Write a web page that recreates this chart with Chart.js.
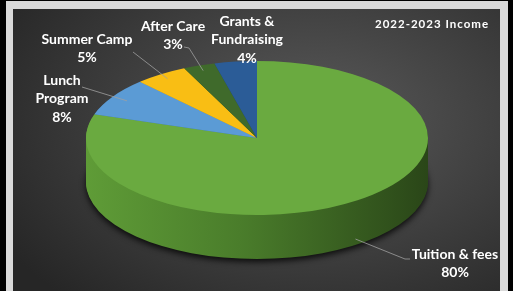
<!DOCTYPE html>
<html>
<head>
<meta charset="utf-8">
<script src="https://cdn.jsdelivr.net/npm/chart.js@4.4.1/dist/chart.umd.min.js"></script>
<style>
html, body { margin: 0; padding: 0; background: #000; width: 513px; height: 291px; overflow: hidden; }
#marco { position: absolute; left: 6px; top: 1px; width: 502px; height: 290px; background: #d9d9d9; }
#panel { position: absolute; left: 13px; top: 9px; width: 487px; height: 282px;
  background: radial-gradient(ellipse 75% 85% at 62% 40%, #5a5a5a 0%, #404040 50%, #262626 100%); }
#miGrafica { position: absolute; left: 0; top: 0; }
</style>
</head>
<body>
<div id="marco"></div>
<div id="panel"></div>
<canvas id="miGrafica" width="513" height="291"></canvas>
<script>
// datos
const categorias = ['Tuition & fees', 'Lunch Program', 'Summer Camp', 'After Care', 'Grants & Fundraising']
const porcentajes = [80, 8, 5, 3, 4]
const titulo = '2022-2023 Income'

const coloresTapa = ['#6aaa40', '#5b9bd5', '#f9be14', '#3f6a2b', '#2b5c97']
const coloresLado = ['#4a7d2b', '#3f77aa', '#c99500', '#2c4b1d', '#1d4170']

// geometria del pastel 3d (elipse en pantalla)
const CX = 257, CY = 138, RX = 171, RY = 77, PROF = 44

function ponerTransform(ctx, arc, d) {
    const R = arc.outerRadius
    ctx.translate(CX, CY + d)
    ctx.scale(RX / R, RY / R)
    ctx.translate(-arc.x, -arc.y)
}

function punto(arc, frac, d) {
    const ang = (arc.startAngle + arc.endAngle) / 2
    return { x: CX + RX * frac * Math.cos(ang), y: CY + RY * frac * Math.sin(ang) + d }
}

const pastel3d = {
    id: 'pastel3d',
    beforeDatasetsDraw(chart) {
        const ctx = chart.ctx
        const arcs = chart.getDatasetMeta(0).data
        const a0 = arcs[0]
        for (let d = PROF; d > 0; d--) {
            ctx.save()
            ponerTransform(ctx, a0, d)
            const g = ctx.createLinearGradient(a0.x - a0.outerRadius, 0, a0.x + a0.outerRadius, 0)
            g.addColorStop(0, '#5f9c37')
            g.addColorStop(0.45, '#4a7d2b')
            g.addColorStop(1, '#2a4618')
            if (d == PROF) {
                ctx.shadowColor = 'rgba(0,0,0,0.8)'
                ctx.shadowBlur = 6
                ctx.shadowOffsetY = 3
            }
            arcs.forEach((arc, i) => {
                ctx.beginPath()
                ctx.moveTo(arc.x, arc.y)
                ctx.arc(arc.x, arc.y, arc.outerRadius, arc.startAngle, arc.endAngle)
                ctx.closePath()
                ctx.fillStyle = i == 0 ? g : coloresLado[i]
                ctx.fill()
            })
            ctx.restore()
        }
        ctx.save()
        ponerTransform(ctx, a0, 0)
    },
    afterDatasetsDraw(chart) {
        chart.ctx.restore()
    }
}

// etiquetas con lineas guia
const etiquetas = [
    { x: 455, y: 254, ancho: 120, guia: [[410, 259], [405, 259]], frac: 0.98, d: 40 },
    { x: 62, y: 80, ancho: 60, guia: [[82, 87]], frac: 0.9, d: 0 },
    { x: 87, y: 39, ancho: 120, guia: [[133, 52]], frac: 0.93, d: 0 },
    { x: 173, y: 26, ancho: 120, guia: [[184, 47], [189, 48]], frac: 0.93, d: 0 },
    { x: 247, y: 21, ancho: 80, guia: null }
]

function partir(ctx, texto, ancho) {
    const palabras = texto.split(' ')
    const lineas = []
    let actual = ''
    palabras.forEach(p => {
        const prueba = actual ? actual + ' ' + p : p
        if (actual && ctx.measureText(prueba).width > ancho) {
            lineas.push(actual)
            actual = p
        } else {
            actual = prueba
        }
    })
    lineas.push(actual)
    return lineas
}

const rotulos = {
    id: 'rotulos',
    afterDraw(chart) {
        const ctx = chart.ctx
        const arcs = chart.getDatasetMeta(0).data
        ctx.save()
        ctx.strokeStyle = '#a0a0a0'
        ctx.lineWidth = 0.8
        etiquetas.forEach((e, i) => {
            if (!e.guia) return
            const fin = punto(arcs[i], e.frac, e.d)
            ctx.beginPath()
            ctx.moveTo(e.guia[0][0], e.guia[0][1])
            e.guia.slice(1).forEach(p => ctx.lineTo(p[0], p[1]))
            ctx.lineTo(fin.x, fin.y)
            ctx.stroke()
        })
        ctx.fillStyle = '#ffffff'
        ctx.font = 'bold 14px Lato'
        ctx.textAlign = 'center'
        ctx.textBaseline = 'middle'
        etiquetas.forEach((e, i) => {
            const lineas = partir(ctx, categorias[i], e.ancho)
            lineas.push(porcentajes[i] + '%')
            lineas.forEach((l, k) => ctx.fillText(l, e.x, e.y + k * 18.5))
        })
        ctx.font = 'bold 11.5px Lato'
        ctx.letterSpacing = '1px'
        ctx.fillText(titulo, 432, 24)
        ctx.restore()
    }
}

new Chart('miGrafica', {
    type: 'pie',
    data: {
        labels: categorias,
        datasets: [{
            data: porcentajes,
            backgroundColor: coloresTapa,
            borderWidth: 0
        }]
    },
    options: {
        responsive: false,
        animation: false,
        plugins: {
            legend: { display: false },
            tooltip: { enabled: false }
        }
    },
    plugins: [pastel3d, rotulos]
})
</script>
</body>
</html>
